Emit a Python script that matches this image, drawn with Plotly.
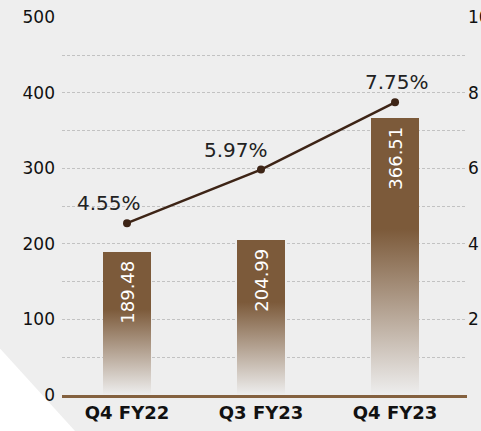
# Quarterly bars with a gradient fade plus a percentage line on the right axis

import plotly.graph_objects as go

# Data
quarters = ['Q4 FY22', 'Q3 FY23', 'Q4 FY23']
bar_values = [189.48, 204.99, 366.51]
pct_values = [4.55, 5.97, 7.75]
left_ticks = [0, 100, 200, 300, 400, 500]
right_ticks = [2, 4, 6, 8, 10]

# Styles
BG = '#eeeeee'
BAR = '#7c5a3a'
LINE = '#3d2416'
FONT = 'DejaVu Sans'
GRID = '#c2c2c2'
BAR_W = 0.36
pos = list(range(len(quarters)))

fig = go.Figure()

# Solid bars with their value written inside, near the top
# (trailing no-break space pushes the label a little down from the bar top)
fig.add_trace(go.Bar(
    x=pos,
    y=bar_values,
    width=BAR_W,
    marker=dict(color=BAR, line=dict(width=0)),
    text=[f'{v:.2f}\u00a0' for v in bar_values],
    textposition='inside',
    insidetextanchor='end',
    textangle=-90,
    textfont=dict(family=FONT, size=18, color='white'),
    hoverinfo='skip',
    showlegend=False,
))

# Fade each bar into the background towards its base
for i, v in zip(pos, bar_values):
    fig.add_trace(go.Scatter(
        x=[i - BAR_W / 2, i + BAR_W / 2, i + BAR_W / 2, i - BAR_W / 2, i - BAR_W / 2],
        y=[0, 0, v * 0.6, v * 0.6, 0],
        mode='lines',
        line=dict(width=0),
        fill='toself',
        fillgradient=dict(
            type='vertical',
            colorscale=[[0, 'rgba(238,238,238,1)'], [1, 'rgba(238,238,238,0)']],
            start=0,
            stop=v * 0.6,
        ),
        hoverinfo='skip',
        showlegend=False,
    ))

# Percentage line
fig.add_trace(go.Scatter(
    x=pos,
    y=pct_values,
    yaxis='y2',
    mode='lines+markers',
    line=dict(color=LINE, width=2.5),
    marker=dict(color=LINE, size=8),
    hoverinfo='skip',
    showlegend=False,
))

# Labels above the line points
shifts = [-18, -25, 2]
for i, v, s in zip(pos, pct_values, shifts):
    fig.add_annotation(
        x=i, y=v, xref='x', yref='y2',
        text=f'{v:.2f}%',
        showarrow=False,
        xanchor='center', yanchor='bottom',
        xshift=s, yshift=6,
        font=dict(family=FONT, size=20, color='#222222'),
    )

# Lighter cut-out in the lower-left corner
fig.add_shape(
    type='path', xref='paper', yref='paper',
    path='M -0.16 0.1310 L 0.0321 -0.0952 L -0.16 -0.0952 Z',
    fillcolor='white', line=dict(width=0), layer='below',
)

fig.update_layout(
    width=481,
    height=431,
    margin=dict(l=62, r=14, t=17, b=36, autoexpand=False),
    paper_bgcolor=BG,
    plot_bgcolor=BG,
    bargap=0,
    xaxis=dict(
        range=[-0.485, 2.537],
        tickvals=pos,
        ticktext=[f'<b>{q}</b>' for q in quarters],
        tickfont=dict(family=FONT, size=18, color='#111111'),
        showgrid=False,
        zeroline=False,
        showline=True,
        linecolor='#84613f',
        linewidth=2.5,
        ticks='',
        automargin=False,
        fixedrange=True,
    ),
    yaxis=dict(
        range=[0, 500.5],
        tickvals=left_ticks,
        tickfont=dict(family=FONT, size=17, color='#111111'),
        showgrid=True,
        gridcolor=GRID,
        gridwidth=1,
        griddash='3px,2px',
        minor=dict(dtick=50, showgrid=True, gridcolor=GRID, gridwidth=1, griddash='3px,2px'),
        zeroline=False,
        ticks='',
        ticklabelstandoff=6,
        automargin=False,
    ),
    yaxis2=dict(
        range=[0, 10.01],
        tickvals=right_ticks,
        overlaying='y',
        side='right',
        tickfont=dict(family=FONT, size=17, color='#111111'),
        showgrid=False,
        zeroline=False,
        ticks='',
        automargin=False,
    ),
)

fig.write_html(
    "out.html",
    config={'displayModeBar': False},
    post_script="document.body.style.margin='0';",
)
